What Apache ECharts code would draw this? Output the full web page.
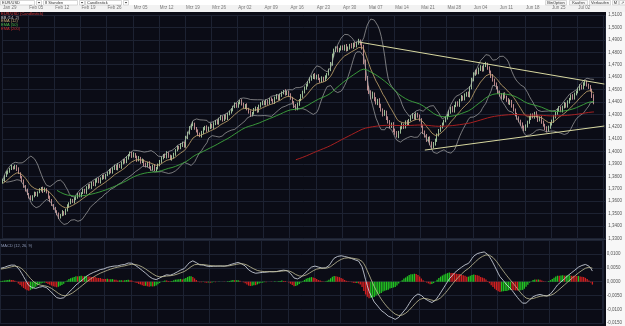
<!DOCTYPE html>
<html>
<head>
<meta charset="utf-8">
<script src="https://cdn.jsdelivr.net/npm/echarts@6/dist/echarts.min.js"></script>
<style>
html, body { margin: 0; padding: 0; background: #0b0c16; }
#chart { width: 625px; height: 326px; }
</style>
</head>
<body>
<div id="chart"></div>
<script>
// week labels of the top date row (one label every 15 candles of 8 hours)
var weekLabels = ['Jan 29', 'Feb 05', 'Feb 12', 'Feb 19', 'Feb 26', 'Mrz 05', 'Mrz 12', 'Mrz 19', 'Mrz 26',
  'Apr 02', 'Apr 09', 'Apr 16', 'Apr 23', 'Apr 30', 'Mai 07', 'Mai 14', 'Mai 21', 'Mai 28',
  'Jun 04', 'Jun 11', 'Jun 18', 'Jun 25', 'Jul 02'];

var firstOpen = 1.3750;

// EUR/USD 8h closes, one row per week
var closesByWeek = [
  [1.3770,1.3802,1.3827,1.3843,1.3859,1.3875,1.3867,1.3883,1.3859,1.3827,1.3794,1.3762,1.3722,1.3690,1.3657],
  [1.3633,1.3617,1.3641,1.3665,1.3649,1.3673,1.3690,1.3706,1.3681,1.3698,1.3673,1.3633,1.3601,1.3569,1.3544],
  [1.3520,1.3496,1.3472,1.3488,1.3512,1.3496,1.3528,1.3561,1.3585,1.3609,1.3593,1.3617,1.3633,1.3657,1.3641],
  [1.3665,1.3690,1.3673,1.3706,1.3730,1.3714,1.3746,1.3730,1.3762,1.3778,1.3754,1.3786,1.3802,1.3786,1.3810],
  [1.3827,1.3851,1.3835,1.3867,1.3883,1.3859,1.3891,1.3875,1.3907,1.3931,1.3915,1.3948,1.3972,1.3988,1.3964],
  [1.3980,1.3956,1.3931,1.3948,1.3915,1.3931,1.3899,1.3883,1.3907,1.3875,1.3859,1.3883,1.3851,1.3867,1.3891],
  [1.3923,1.3948,1.3972,1.3956,1.3988,1.3964,1.3940,1.3956,1.3980,1.4012,1.4036,1.4028,1.4052,1.4069,1.4044],
  [1.4109,1.4149,1.4190,1.4214,1.4222,1.4190,1.4165,1.4141,1.4125,1.4157,1.4181,1.4198,1.4173,1.4190,1.4214],
  [1.4198,1.4222,1.4246,1.4230,1.4262,1.4278,1.4254,1.4286,1.4270,1.4302,1.4319,1.4335,1.4359,1.4383,1.4367],
  [1.4391,1.4407,1.4383,1.4359,1.4375,1.4343,1.4319,1.4294,1.4310,1.4335,1.4351,1.4327,1.4367,1.4383,1.4399],
  [1.4383,1.4407,1.4391,1.4423,1.4415,1.4399,1.4431,1.4448,1.4423,1.4456,1.4472,1.4488,1.4464,1.4480,1.4456],
  [1.4431,1.4399,1.4367,1.4343,1.4383,1.4415,1.4448,1.4480,1.4512,1.4536,1.4560,1.4585,1.4601,1.4617,1.4593],
  [1.4609,1.4585,1.4569,1.4593,1.4577,1.4601,1.4625,1.4657,1.4706,1.4770,1.4819,1.4835,1.4811,1.4827,1.4843],
  [1.4827,1.4851,1.4819,1.4835,1.4859,1.4843,1.4867,1.4851,1.4875,1.4891,1.4867,1.4835,1.4722,1.4593,1.4512],
  [1.4480,1.4440,1.4464,1.4423,1.4391,1.4415,1.4367,1.4335,1.4302,1.4319,1.4270,1.4238,1.4206,1.4222,1.4173],
  [1.4149,1.4125,1.4157,1.4190,1.4214,1.4198,1.4238,1.4222,1.4254,1.4278,1.4294,1.4270,1.4302,1.4286,1.4254],
  [1.4206,1.4157,1.4125,1.4093,1.4109,1.4069,1.4044,1.4061,1.4093,1.4133,1.4173,1.4198,1.4222,1.4246,1.4270],
  [1.4294,1.4319,1.4351,1.4327,1.4367,1.4391,1.4375,1.4415,1.4440,1.4423,1.4456,1.4472,1.4448,1.4512,1.4577],
  [1.4625,1.4649,1.4633,1.4665,1.4681,1.4657,1.4690,1.4706,1.4673,1.4641,1.4609,1.4577,1.4544,1.4512,1.4480],
  [1.4456,1.4431,1.4464,1.4440,1.4415,1.4391,1.4407,1.4367,1.4335,1.4302,1.4270,1.4246,1.4222,1.4198,1.4181],
  [1.4206,1.4238,1.4270,1.4294,1.4278,1.4310,1.4286,1.4254,1.4270,1.4238,1.4214,1.4190,1.4173,1.4198,1.4222],
  [1.4246,1.4278,1.4310,1.4335,1.4351,1.4327,1.4359,1.4383,1.4367,1.4399,1.4423,1.4448,1.4431,1.4464,1.4480],
  [1.4504,1.4528,1.4512,1.4544,1.4560,1.4536,1.4520,1.4496,1.4448,1.4399]
];

// upper / lower wick lengths in pips
var wickUpByWeek = [
  [12,8,15,6,10,18,7,11,9,14,6,10,13,8,11],
  [9,14,7,12,10,6,15,8,11,13,7,9,12,16,8],
  [10,7,13,9,16,8,11,14,6,12,9,15,7,10,13],
  [8,12,10,15,7,11,9,13,16,8,12,6,10,14,9],
  [11,9,14,7,12,10,16,8,13,9,11,15,8,12,10],
  [14,8,11,16,9,13,7,12,10,15,8,11,14,9,12],
  [9,13,8,12,15,7,11,14,10,8,13,9,16,11,8],
  [18,12,15,9,20,11,8,14,12,10,16,9,13,11,15],
  [10,14,9,13,11,16,8,12,15,9,11,14,10,13,8],
  [12,9,15,11,8,14,10,13,9,16,12,8,11,15,10],
  [9,13,11,8,14,10,12,16,9,11,13,8,15,10,12],
  [14,10,8,16,12,9,15,11,13,10,8,14,12,9,16],
  [11,15,9,13,10,14,8,12,16,20,11,13,15,9,12],
  [13,10,16,12,9,15,11,14,10,18,12,9,25,20,16],
  [18,14,20,12,16,10,15,19,13,17,11,14,16,12,15],
  [12,16,10,14,18,11,13,15,9,12,16,10,14,11,13],
  [15,11,13,17,10,14,12,16,11,13,9,15,12,10,14],
  [10,13,11,15,9,12,14,10,16,11,13,9,12,15,18],
  [14,10,16,12,15,11,13,17,10,14,12,16,11,13,15],
  [12,15,10,14,11,16,13,9,15,12,10,14,11,13,12],
  [13,11,16,12,14,10,15,11,13,16,12,10,14,11,13],
  [11,14,12,10,15,13,11,16,12,14,10,13,15,11,12],
  [12,15,11,14,10,13,12,16,11,14]
];
var wickDnByWeek = [
  [9,13,7,11,14,8,12,10,15,7,11,9,14,12,8],
  [11,8,14,10,7,13,9,12,15,8,10,14,9,7,13],
  [14,10,16,12,9,13,8,11,14,10,7,12,9,13,10],
  [10,7,12,14,9,11,15,8,10,13,9,12,14,8,11],
  [8,12,10,13,15,9,11,7,14,10,12,9,13,11,15],
  [12,9,14,10,13,8,16,11,9,12,14,10,8,13,11],
  [10,14,11,8,12,15,9,13,11,14,10,12,9,15,13],
  [13,9,12,16,10,14,11,15,9,12,17,10,14,12,9],
  [11,15,9,12,14,10,13,8,12,16,10,13,11,9,14],
  [14,10,12,9,16,11,13,15,10,12,9,14,11,13,10],
  [10,12,15,11,9,13,14,10,12,8,15,11,13,9,12],
  [13,11,16,12,10,14,9,15,11,13,12,10,14,16,11],
  [12,9,14,11,15,10,13,12,9,14,11,16,10,12,13],
  [10,14,12,9,13,11,15,10,12,14,11,13,18,22,20],
  [16,19,14,18,12,17,15,13,19,14,16,12,18,15,17],
  [14,12,17,13,11,16,12,15,13,10,14,12,16,13,11],
  [13,16,12,15,14,18,20,16,13,15,11,14,12,13,10],
  [12,10,14,11,13,9,12,15,10,13,11,14,9,12,10],
  [11,14,12,10,15,13,11,9,14,12,16,13,15,11,14],
  [13,10,15,12,14,11,16,13,12,15,13,11,14,12,16],
  [15,12,14,16,11,13,12,15,11,14,13,16,18,12,14],
  [12,15,11,13,14,10,12,11,14,13,12,10,13,12,11],
  [11,13,12,10,14,12,15,13,16,18]
];

// indicator values carried in from the candles before the first visible one
var ema12Start = 1.3740, ema26Start = 1.3690, ema50Start = 1.3715, ema200Start = 1.3110, signalStart = 0.0045;

// hand drawn trend lines: [candle index, price]
var upperTrend = [[204, 1.4883], [345, 1.4544]];
var lowerTrend = [[242, 1.4012], [345, 1.4206]];

var legendLines = [
  ['EUR/USD (Candlestick)', '#d03a3a'],
  ['BB (14, 2)', '#c8c8c8'],
  ['EMA (12)', '#c8aa70'],
  ['EMA (50)', '#4cbc4c'],
  ['EMA (200)', '#c83030']
];

var myChart = echarts.init(document.getElementById('chart'));

var closes = [].concat.apply([], closesByWeek);
var wickUp = [].concat.apply([], wickUpByWeek);
var wickDn = [].concat.apply([], wickDnByWeek);

var cats = [];
weekLabels.forEach(function (l) {
  for (var j = 0; j < 15; j++) cats.push(j === 0 ? l : '');
});
cats.push('');

var candles = closes.map(function (c, i) {
  var o = i === 0 ? firstOpen : closes[i - 1];
  var hi = Math.max(o, c) + wickUp[i] / 10000;
  var lo = Math.min(o, c) - wickDn[i] / 10000;
  return [o, c, +lo.toFixed(4), +hi.toFixed(4)];
});

function ema(arr, n, seed) {
  var k = 2 / (n + 1), out = [], prev = seed;
  arr.forEach(function (v) {
    prev = v * k + prev * (1 - k);
    out.push(prev);
  });
  return out;
}
function from(arr, start) {
  return arr.map(function (v, i) { return i < start ? null : +v.toFixed(6); });
}

var bbUp = [], bbLo = [];
closes.forEach(function (c, i) {
  var win = closes.slice(Math.max(0, i - 13), i + 1);
  var m = win.reduce(function (a, b) { return a + b; }, 0) / win.length;
  var sd = Math.sqrt(win.reduce(function (a, b) { return a + (b - m) * (b - m); }, 0) / win.length);
  bbUp.push(+(m + 2 * sd).toFixed(5));
  bbLo.push(+(m - 2 * sd).toFixed(5));
});

var ema12 = ema(closes, 12, ema12Start), ema26 = ema(closes, 26, ema26Start);
var ema50 = ema(closes, 50, ema50Start), ema200 = ema(closes, 200, ema200Start);
var macd = ema12.map(function (v, i) { return v - ema26[i]; });
var signal = ema(macd, 9, signalStart);
var hist = macd.map(function (v, i) { return v - signal[i]; });

function fmt(v) { return v.toFixed(4).replace('.', ','); }

var font = 'Liberation Sans';
var graphics = [
  { type: 'rect', z: -1, shape: { x: 0, y: 0, width: 625, height: 12 }, style: { fill: '#ffffff' } },
  { type: 'rect', z: -1, shape: { x: 0, y: 5, width: 625, height: 7 }, style: { fill: '#f2f2f2' } },
  { type: 'rect', z: -1, shape: { x: 606, y: 12, width: 19, height: 314 }, style: { fill: '#f7f7f7' } },
  { type: 'rect', z: -1, shape: { x: 0, y: 238.8, width: 606, height: 1.2 }, style: { fill: '#2a3040' } }
];
// drop-downs and buttons of the header
[['EUR/USD', 0, 34], ['8 Stunden', 43, 34], ['Candlestick', 85, 36]].forEach(function (d) {
  graphics.push({ type: 'rect', shape: { x: d[1] + 0.5, y: 0.5, width: d[2], height: 4.5 }, style: { fill: '#fff', stroke: '#b0b0b0', lineWidth: 0.5 } });
  graphics.push({ type: 'rect', shape: { x: d[1] + d[2] + 2.5, y: 0.5, width: 5, height: 4.5 }, style: { fill: '#fff', stroke: '#b0b0b0', lineWidth: 0.5 } });
  graphics.push({ type: 'text', x: d[1] + 2, y: 2.9, style: { text: d[0], fill: '#333', fontSize: 4, fontFamily: font, verticalAlign: 'middle' } });
  graphics.push({ type: 'polygon', shape: { points: [[d[1] + d[2] + 3.8, 2], [d[1] + d[2] + 6.2, 2], [d[1] + d[2] + 5, 3.5]] }, style: { fill: '#333' } });
});
[['BinOption', 545, 21], ['Kaufen', 569, 18], ['Verkaufen', 589, 21], ['M', 612, 6], ['\u2197', 619, 6]].forEach(function (b) {
  graphics.push({ type: 'rect', shape: { x: b[1] + 0.5, y: 0.5, width: b[2], height: 4.5 }, style: { fill: '#f8f8f8', stroke: '#b8b8b8', lineWidth: 0.5 } });
  graphics.push({ type: 'text', x: b[1] + 0.5 + b[2] / 2, y: 2.9, style: { text: b[0], fill: '#333', fontSize: 4, fontFamily: font, align: 'center', verticalAlign: 'middle' } });
});
legendLines.forEach(function (l, i) {
  graphics.push({ type: 'text', x: 1, y: 13.8 + i * 3.7, z: 10, style: { text: l[0], fill: l[1], fontSize: 4, fontFamily: font, verticalAlign: 'middle' } });
});
graphics.push({ type: 'text', x: 1, y: 246, z: 10, style: { text: 'MACD (12, 26, 9)', fill: '#8e9ab8', fontSize: 4, fontFamily: font, verticalAlign: 'middle' } });

var gridLine = { lineStyle: { color: '#1d2232', width: 1 } };

var option = {
  animation: false,
  backgroundColor: '#0b0c16',
  graphic: graphics,
  grid: [
    { left: 0, right: 19, top: 15.1, height: 223.3 },
    { left: 0, right: 19, top: 240.2, height: 83 }
  ],
  xAxis: [
    {
      type: 'category', gridIndex: 0, data: cats, position: 'top', boundaryGap: true,
      axisLine: { show: false }, axisTick: { show: false },
      axisLabel: { interval: 0, fontSize: 4.5, color: '#777', align: 'left', margin: 4.5, fontFamily: font },
      splitLine: { show: true, interval: function (i) { return i % 15 === 0; }, lineStyle: gridLine.lineStyle }
    },
    {
      type: 'category', gridIndex: 1, data: cats, boundaryGap: true,
      axisLine: { show: false }, axisTick: { show: false }, axisLabel: { show: false },
      splitLine: { show: true, interval: function (i) { return i % 15 === 0; }, lineStyle: gridLine.lineStyle }
    }
  ],
  yAxis: [
    {
      type: 'value', gridIndex: 0, position: 'right', min: 1.33, max: 1.51, interval: 0.01,
      axisLine: { show: false }, axisTick: { show: false },
      axisLabel: { fontSize: 4.5, color: '#555', margin: 3, fontFamily: font, formatter: fmt },
      splitLine: gridLine
    },
    {
      type: 'value', gridIndex: 1, position: 'right', min: -0.015, max: 0.015, interval: 0.005,
      axisLine: { show: false }, axisTick: { show: false },
      axisLabel: { fontSize: 4.5, color: '#555', margin: 3, fontFamily: font,
        formatter: function (v) { return v > 0.011 ? '' : fmt(v); } },
      splitLine: gridLine
    }
  ],
  series: [
    {
      name: 'EUR/USD', type: 'candlestick', xAxisIndex: 0, yAxisIndex: 0, data: candles, barWidth: 1,
      itemStyle: { color: '#c0e8b6', color0: '#e6aaaa', borderColor: '#c0e8b6', borderColor0: '#e6aaaa', borderWidth: 0.8 },
      markLine: {
        silent: true, symbol: ['none', 'none'], label: { show: false },
        lineStyle: { color: '#d8d8a0', width: 1, type: 'solid' },
        data: [
          [{ coord: upperTrend[0] }, { coord: upperTrend[1] }],
          [{ coord: lowerTrend[0] }, { coord: lowerTrend[1] }]
        ]
      }
    },
    { name: 'BB up', type: 'line', data: bbUp, showSymbol: false, lineStyle: { color: '#a8a8a8', width: 0.7 } },
    { name: 'BB lo', type: 'line', data: bbLo, showSymbol: false, lineStyle: { color: '#a8a8a8', width: 0.7 } },
    { name: 'EMA12', type: 'line', data: from(ema12, 0), showSymbol: false, lineStyle: { color: '#c8aa70', width: 0.8 } },
    { name: 'EMA50', type: 'line', data: from(ema50, 31), showSymbol: false, lineStyle: { color: '#3ea83e', width: 0.9 } },
    { name: 'EMA200', type: 'line', data: from(ema200, 168), showSymbol: false, lineStyle: { color: '#a82020', width: 1 } },
    {
      name: 'Hist', type: 'bar', xAxisIndex: 1, yAxisIndex: 1, barWidth: 1.3,
      data: hist.map(function (v, i) {
        var up = i === 0 || v >= hist[i - 1];
        return { value: +v.toFixed(6), itemStyle: { color: up ? '#22c422' : '#d42020' } };
      })
    },
    { name: 'MACD', type: 'line', xAxisIndex: 1, yAxisIndex: 1, data: from(macd, 0), showSymbol: false, lineStyle: { color: '#dce2ee', width: 0.8 } },
    { name: 'Signal', type: 'line', xAxisIndex: 1, yAxisIndex: 1, data: from(signal, 0), showSymbol: false, lineStyle: { color: '#c4c098', width: 0.8 } }
  ]
};
myChart.setOption(option);
</script>
</body>
</html>
